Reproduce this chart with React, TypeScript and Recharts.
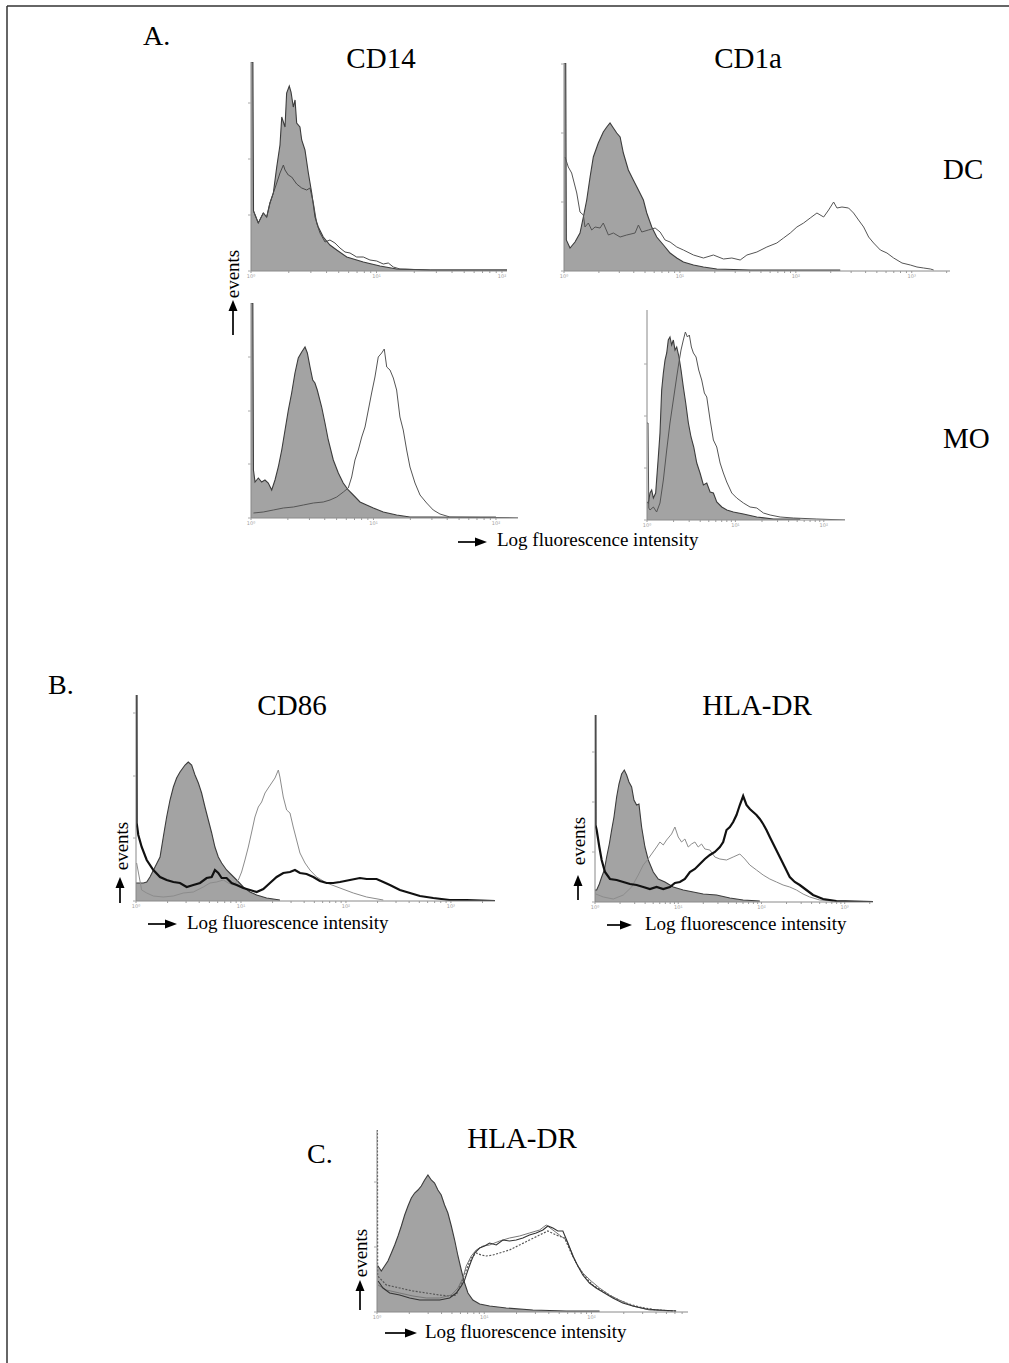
import React from 'react';
import { ComposedChart, Area, Line, XAxis, YAxis } from 'recharts';

type Pt = [number, number];

// ---------- tick labels ----------
const decadeLabels = ['10\u2070', '10\u00B9', '10\u00B2', '10\u00B3', '10\u2074'];
const minorMultipliers = [2, 3, 4, 5, 6, 7, 8, 9];

// ---------- A. DC / CD14 ----------
const cd14DcIsotype: Pt[] = [[0,209],[0.015,209],[0.02,60],[0.058,48],[0.098,58],[0.125,54],[0.151,68],[0.178,78],[0.205,104],[0.231,126],[0.245,154],[0.271,144],[0.284,178],[0.305,185],[0.319,179],[0.337,164],[0.351,171],[0.364,148],[0.39,144],[0.404,131],[0.43,121],[0.457,98],[0.484,78],[0.51,54],[0.536,44],[0.576,34],[0.629,26],[0.683,21],[0.763,14],[0.895,9],[1.028,5],[1.161,2],[1.43,1],[2.04,1]];
const cd14DcStained: Pt[] = [[0.02,60],[0.058,48],[0.098,58],[0.125,54],[0.151,68],[0.178,78],[0.205,88],[0.231,98],[0.258,106],[0.271,101],[0.297,96],[0.324,94],[0.364,87],[0.404,83],[0.444,81],[0.47,83],[0.497,68],[0.523,48],[0.55,38],[0.59,29],[0.629,31],[0.669,28],[0.709,23],[0.749,19],[0.789,18],[0.842,14],[0.895,14],[0.948,11],[1.002,10],[1.054,7],[1.094,8],[1.134,4],[1.187,2],[1.43,1],[2.04,1]];
const cd14DcYTicks = [0, 56, 112, 168];

// ---------- A. DC / CD1a ----------
const cd1aDcIsotype: Pt[] = [[0,208],[0.015,208],[0.02,31],[0.052,23],[0.095,29],[0.138,38],[0.167,54],[0.196,71],[0.225,94],[0.253,114],[0.296,128],[0.339,139],[0.369,144],[0.397,148],[0.426,143],[0.455,138],[0.484,134],[0.512,118],[0.555,101],[0.598,91],[0.642,81],[0.685,71],[0.714,58],[0.757,44],[0.8,34],[0.858,26],[0.915,18],[0.973,13],[1.03,9],[1.117,6],[1.203,4],[1.318,2],[1.606,1],[2.383,1]];
const cd1aDcStained: Pt[] = [[0.009,114],[0.037,104],[0.066,98],[0.11,78],[0.138,59],[0.167,56],[0.181,44],[0.21,48],[0.239,41],[0.268,44],[0.311,43],[0.339,48],[0.383,36],[0.426,38],[0.484,34],[0.541,36],[0.613,38],[0.642,46],[0.671,39],[0.728,41],[0.786,43],[0.829,39],[0.872,31],[0.915,29],[0.973,24],[1.03,21],[1.117,16],[1.203,13],[1.289,16],[1.376,12],[1.448,13],[1.52,11],[1.578,16],[1.664,19],[1.75,24],[1.836,28],[1.894,33],[1.952,38],[2.009,44],[2.067,48],[2.124,53],[2.182,58],[2.24,54],[2.283,61],[2.326,69],[2.355,63],[2.398,64],[2.455,63],[2.498,58],[2.541,51],[2.585,44],[2.628,34],[2.671,28],[2.729,21],[2.786,18],[2.844,13],[2.916,8],[2.988,6],[3.045,4],[3.103,3],[3.161,2],[3.189,1]];
const cd1aDcYTicks = [0, 69, 138, 207];

// ---------- A. MO / CD14 ----------
const cd14MoIsotype: Pt[] = [[0,215],[0.015,215],[0.02,48],[0.033,36],[0.06,40],[0.087,36],[0.114,38],[0.141,35],[0.169,28],[0.196,38],[0.223,51],[0.251,68],[0.278,88],[0.305,108],[0.332,125],[0.359,145],[0.386,160],[0.414,166],[0.441,171],[0.46,165],[0.482,151],[0.504,138],[0.522,135],[0.541,128],[0.577,111],[0.604,95],[0.631,78],[0.672,58],[0.713,45],[0.753,35],[0.794,28],[0.835,23],[0.89,16],[0.944,13],[0.999,10],[1.08,6],[1.189,3],[1.298,1],[1.461,1],[2.18,0]];
const cd14MoStained: Pt[] = [[0.02,5],[0.1,6],[0.182,8],[0.264,10],[0.346,11],[0.427,13],[0.509,15],[0.59,16],[0.645,18],[0.7,21],[0.754,26],[0.794,30],[0.822,41],[0.849,58],[0.876,68],[0.904,81],[0.931,91],[0.958,108],[0.985,125],[1.012,141],[1.039,161],[1.067,165],[1.088,169],[1.108,151],[1.135,148],[1.162,140],[1.189,128],[1.216,101],[1.243,88],[1.271,68],[1.298,51],[1.339,35],[1.38,23],[1.434,15],[1.488,8],[1.543,4],[1.624,1],[2.0,1]];
const cd14MoYTicks = [0, 54, 107, 161];

// ---------- A. MO / CD1a ----------
const cd1aMoIsotype: Pt[] = [[0,18],[0.015,17],[0.034,27],[0.053,30],[0.072,22],[0.098,27],[0.128,63],[0.147,87],[0.166,130],[0.185,147],[0.204,160],[0.223,167],[0.241,180],[0.26,183],[0.279,175],[0.298,180],[0.317,170],[0.336,173],[0.362,163],[0.385,150],[0.411,133],[0.438,117],[0.468,97],[0.498,83],[0.529,73],[0.563,57],[0.6,47],[0.638,35],[0.676,37],[0.714,28],[0.751,27],[0.789,18],[0.846,13],[0.903,10],[0.977,8],[1.091,6],[1.242,3],[1.43,1],[1.733,1]];
const cd1aMoStained: Pt[] = [[0,97],[0.012,97],[0.02,12],[0.034,10],[0.072,13],[0.109,8],[0.147,17],[0.185,40],[0.223,70],[0.26,97],[0.298,120],[0.336,143],[0.362,158],[0.385,170],[0.411,180],[0.434,188],[0.457,183],[0.479,185],[0.502,173],[0.525,167],[0.555,163],[0.585,150],[0.619,140],[0.649,127],[0.676,123],[0.714,100],[0.751,80],[0.789,73],[0.827,57],[0.864,47],[0.902,38],[0.959,27],[1.015,22],[1.091,17],[1.166,13],[1.242,12],[1.317,7],[1.393,5],[1.506,3],[1.657,2],[1.921,1],[2.24,0]];
const cd1aMoYTicks = [0, 52, 104, 156];

// ---------- B. CD86 ----------
const cd86Isotype: Pt[] = [[0,18],[0.013,18],[0.07,18],[0.102,19],[0.133,24],[0.181,34],[0.229,44],[0.26,64],[0.292,84],[0.324,101],[0.356,114],[0.387,123],[0.419,129],[0.467,136],[0.498,139],[0.53,136],[0.562,126],[0.594,118],[0.625,108],[0.657,94],[0.689,81],[0.721,68],[0.752,54],[0.784,44],[0.816,38],[0.863,31],[0.911,26],[0.959,21],[1.022,14],[1.086,9],[1.149,6],[1.244,3],[1.371,1]];
const cd86Immature: Pt[] = [[0.006,38],[0.054,11],[0.102,8],[0.165,5],[0.26,4],[0.356,5],[0.451,8],[0.546,9],[0.641,14],[0.705,18],[0.768,19],[0.832,21],[0.879,18],[0.927,16],[0.975,21],[1.006,29],[1.038,41],[1.07,54],[1.102,69],[1.133,84],[1.165,94],[1.197,99],[1.229,108],[1.26,113],[1.292,118],[1.324,123],[1.356,131],[1.371,124],[1.403,104],[1.435,91],[1.467,88],[1.498,74],[1.53,61],[1.562,48],[1.61,38],[1.657,31],[1.721,24],[1.816,18],[1.943,13],[2.07,8],[2.197,4],[2.356,1]];
const cd86Treated: Pt[] = [[0,206],[0.004,206],[0.006,78],[0.022,66],[0.054,54],[0.102,41],[0.165,31],[0.229,24],[0.292,21],[0.356,19],[0.419,18],[0.483,14],[0.546,16],[0.61,18],[0.673,23],[0.721,24],[0.752,31],[0.784,28],[0.816,23],[0.863,23],[0.911,18],[0.959,16],[1.022,13],[1.086,11],[1.149,9],[1.213,12],[1.276,18],[1.34,24],[1.403,28],[1.467,29],[1.514,31],[1.562,28],[1.625,27],[1.689,24],[1.752,20],[1.816,18],[1.879,18],[1.943,19],[2.038,21],[2.133,23],[2.197,22],[2.292,22],[2.356,19],[2.419,16],[2.514,11],[2.61,8],[2.705,5],[2.832,3],[2.99,1],[3.149,1],[3.42,0]];
const cd86YTicks = [0, 63, 125, 188];

// ---------- B. HLA-DR ----------
const hlaBIsotype: Pt[] = [[0,12],[0.02,12],[0.052,18],[0.08,25],[0.112,32],[0.14,45],[0.172,58],[0.2,72],[0.228,85],[0.26,105],[0.288,118],[0.32,128],[0.352,132],[0.38,127],[0.408,120],[0.44,115],[0.468,102],[0.5,97],[0.528,98],[0.56,75],[0.6,55],[0.64,42],[0.7,30],[0.76,23],[0.84,20],[0.94,15],[1.06,12],[1.18,10],[1.3,8],[1.46,7],[1.62,4],[1.78,2],[1.98,1]];
const hlaBImmature: Pt[] = [[0.01,8],[0.1,5],[0.22,3],[0.34,7],[0.44,15],[0.52,27],[0.58,37],[0.628,42],[0.68,48],[0.74,55],[0.78,60],[0.82,57],[0.86,62],[0.92,68],[0.96,75],[1.0,65],[1.04,60],[1.08,63],[1.12,55],[1.16,58],[1.2,60],[1.24,55],[1.28,58],[1.32,53],[1.38,52],[1.44,45],[1.5,43],[1.58,42],[1.66,45],[1.74,48],[1.8,43],[1.86,37],[1.94,32],[2.02,27],[2.1,23],[2.18,20],[2.26,17],[2.34,15],[2.42,12],[2.5,8],[2.58,5],[2.7,2],[2.86,1]];
const hlaBTreated: Pt[] = [[0,187],[0.004,187],[0.006,77],[0.02,72],[0.052,55],[0.08,42],[0.12,30],[0.18,23],[0.26,22],[0.34,20],[0.42,18],[0.5,17],[0.58,15],[0.66,13],[0.74,15],[0.82,13],[0.9,15],[0.96,19],[1.02,20],[1.08,23],[1.14,30],[1.2,33],[1.26,38],[1.32,43],[1.38,47],[1.44,50],[1.5,55],[1.54,60],[1.58,72],[1.62,75],[1.66,80],[1.7,87],[1.74,97],[1.78,106],[1.82,97],[1.86,93],[1.9,90],[1.94,87],[1.98,83],[2.02,78],[2.06,72],[2.1,65],[2.16,55],[2.22,45],[2.28,35],[2.34,25],[2.4,20],[2.46,17],[2.54,12],[2.62,7],[2.74,3],[2.9,1],[3.34,0]];
const hlaBYTicks = [0, 50, 100, 150];

// ---------- C. HLA-DR ----------
const hlaCIsotype: Pt[] = [[0,46],[0.01,46],[0.04,41],[0.071,46],[0.102,51],[0.134,59],[0.165,67],[0.196,76],[0.227,86],[0.258,97],[0.289,106],[0.32,114],[0.351,119],[0.382,122],[0.413,126],[0.444,132],[0.475,137],[0.506,132],[0.537,129],[0.568,122],[0.599,117],[0.63,107],[0.661,99],[0.693,86],[0.724,72],[0.755,56],[0.786,42],[0.817,29],[0.848,19],[0.894,12],[0.957,8],[1.05,6],[1.205,4],[1.453,2],[1.764,1],[2.075,1]];
const hlaCSample1: Pt[] = [[0.01,31],[0.056,24],[0.118,19],[0.211,17],[0.304,14],[0.398,12],[0.491,12],[0.584,12],[0.677,14],[0.739,19],[0.786,26],[0.817,32],[0.848,42],[0.879,51],[0.91,59],[0.957,64],[1.003,66],[1.05,69],[1.112,67],[1.174,72],[1.236,71],[1.298,72],[1.36,74],[1.422,77],[1.484,79],[1.547,82],[1.593,86],[1.64,84],[1.686,81],[1.733,81],[1.78,69],[1.826,56],[1.873,46],[1.919,37],[1.981,29],[2.043,24],[2.121,19],[2.199,14],[2.292,9],[2.385,6],[2.509,3],[2.634,2],[2.789,1]];
const hlaCSample2: Pt[] = [[0.01,27],[0.087,22],[0.211,19],[0.335,16],[0.46,14],[0.584,14],[0.693,17],[0.755,24],[0.801,34],[0.832,46],[0.879,56],[0.925,62],[0.988,66],[1.05,67],[1.143,71],[1.236,74],[1.329,76],[1.422,79],[1.516,82],[1.578,87],[1.64,82],[1.702,77],[1.764,72],[1.811,61],[1.857,49],[1.919,39],[1.997,31],[2.075,24],[2.168,17],[2.261,12],[2.385,6],[2.54,2],[2.758,1]];
const hlaCSample3: Pt[] = [[0,182],[0.004,182],[0.006,36],[0.087,27],[0.211,24],[0.335,21],[0.46,19],[0.584,17],[0.677,16],[0.739,17],[0.786,29],[0.832,42],[0.879,54],[0.925,59],[0.972,57],[1.019,56],[1.081,57],[1.143,59],[1.236,62],[1.329,67],[1.422,72],[1.516,77],[1.593,81],[1.671,77],[1.749,74],[1.811,59],[1.873,46],[1.935,36],[2.012,27],[2.106,21],[2.214,14],[2.323,9],[2.447,5],[2.602,2],[2.789,1]];
const hlaCYTicks = [0, 65, 130];

// ---------- styling / layout ----------
const FONT = "'Liberation Serif', 'Times New Roman', serif";
const FILL = '#a3a3a3';

type Series = { key: string; data: Pt[]; kind: 'area' | 'line'; stroke: string; width: number; fill?: string; dash?: string };
type Panel = { id: string; axisX: number; axisY: number; plotW: number; plotH: number; xMax: number; yTicks: number[]; series: Series[] };

const isoArea = (key: string, data: Pt[]): Series => ({ key, data, kind: 'area', stroke: '#3c3c3c', width: 1.1, fill: FILL });

const panels: Panel[] = [
  { id: 'cd14dc', axisX: 251, axisY: 271, plotW: 256, plotH: 209, xMax: 2.04, yTicks: cd14DcYTicks,
    series: [isoArea('iso', cd14DcIsotype), { key: 'st', data: cd14DcStained, kind: 'line', stroke: '#4a4a4a', width: 1 }] },
  { id: 'cd1adc', axisX: 564, axisY: 271, plotW: 386, plotH: 208, xMax: 3.33, yTicks: cd1aDcYTicks,
    series: [isoArea('iso', cd1aDcIsotype), { key: 'st', data: cd1aDcStained, kind: 'line', stroke: '#555', width: 1 }] },
  { id: 'cd14mo', axisX: 251, axisY: 518, plotW: 267, plotH: 215, xMax: 2.18, yTicks: cd14MoYTicks,
    series: [isoArea('iso', cd14MoIsotype), { key: 'st', data: cd14MoStained, kind: 'line', stroke: '#555', width: 1 }] },
  { id: 'cd1amo', axisX: 647, axisY: 520, plotW: 198, plotH: 210, xMax: 2.24, yTicks: cd1aMoYTicks,
    series: [isoArea('iso', cd1aMoIsotype), { key: 'st', data: cd1aMoStained, kind: 'line', stroke: '#555', width: 1 }] },
  { id: 'cd86', axisX: 136, axisY: 901, plotW: 359, plotH: 206, xMax: 3.42, yTicks: cd86YTicks,
    series: [isoArea('iso', cd86Isotype),
      { key: 'im', data: cd86Immature, kind: 'line', stroke: '#8c8c8c', width: 1 },
      { key: 'tr', data: cd86Treated, kind: 'line', stroke: '#111', width: 2.2 }] },
  { id: 'hlab', axisX: 595, axisY: 902, plotW: 278, plotH: 187, xMax: 3.34, yTicks: hlaBYTicks,
    series: [isoArea('iso', hlaBIsotype),
      { key: 'im', data: hlaBImmature, kind: 'line', stroke: '#8c8c8c', width: 1 },
      { key: 'tr', data: hlaBTreated, kind: 'line', stroke: '#111', width: 2.2 }] },
  { id: 'hlac', axisX: 377, axisY: 1312, plotW: 311, plotH: 182, xMax: 2.9, yTicks: hlaCYTicks,
    series: [isoArea('iso', hlaCIsotype),
      { key: 's3', data: hlaCSample3, kind: 'line', stroke: '#555', width: 1.2, dash: '2 1.5' },
      { key: 's2', data: hlaCSample2, kind: 'line', stroke: '#777', width: 1 },
      { key: 's1', data: hlaCSample1, kind: 'line', stroke: '#333', width: 1.1 }] },
];

function buildRows(series: Series[]) {
  const rows: Record<string, number>[] = [];
  series.forEach((s) => s.data.forEach(([x, y]) => rows.push({ x, [s.key]: y })));
  rows.sort((a, b) => a.x - b.x);
  return rows;
}

function xTicksFor(xMax: number) {
  const t: number[] = [];
  for (let k = 0; k <= Math.floor(xMax); k++) {
    t.push(k);
    minorMultipliers.forEach((m) => {
      const v = k + Math.log10(m);
      if (v <= xMax) t.push(v);
    });
  }
  return t;
}

const YW = 5, XH = 12, MT = 2, MR = 10;

function Histogram({ p }: { p: Panel }) {
  const rows = buildRows(p.series);
  const ticks = xTicksFor(p.xMax);
  return (
    <div style={{ position: 'absolute', left: p.axisX - YW, top: p.axisY - p.plotH - MT }}>
      <ComposedChart width={YW + p.plotW + MR} height={MT + p.plotH + XH} data={rows}
        margin={{ top: MT, right: MR, bottom: 0, left: 0 }}>
        <XAxis dataKey="x" type="number" domain={[0, p.xMax]} allowDataOverflow ticks={ticks} interval={0}
          tickFormatter={(v: number) => (Number.isInteger(v) ? decadeLabels[v] : '')}
          height={XH} tickSize={2} tickMargin={1}
          tick={{ fontSize: 5, fill: '#a0a0a0', fontFamily: 'DejaVu Sans' }}
          axisLine={{ stroke: '#8a8a8a', strokeWidth: 1 }} tickLine={{ stroke: '#9a9a9a' }} />
        <YAxis type="number" domain={[0, p.plotH]} allowDataOverflow ticks={p.yTicks} interval={0} width={YW}
          tickSize={3} tickFormatter={() => ''} axisLine={{ stroke: '#888', strokeWidth: 1 }} tickLine={{ stroke: '#aaa' }} />
        {p.series.map((s) =>
          s.kind === 'area' ? (
            <Area key={s.key} type="linear" dataKey={s.key} stroke={s.stroke} strokeWidth={s.width} fill={s.fill}
              fillOpacity={1} connectNulls dot={false} activeDot={false} isAnimationActive={false} />
          ) : (
            <Line key={s.key} type="linear" dataKey={s.key} stroke={s.stroke} strokeWidth={s.width}
              strokeDasharray={s.dash} connectNulls dot={false} activeDot={false} isAnimationActive={false} />
          )
        )}
      </ComposedChart>
    </div>
  );
}

function VArrow({ x, head, tail }: { x: number; head: number; tail: number }) {
  return (
    <g>
      <line x1={x} y1={tail} x2={x} y2={head + 8} stroke="#000" strokeWidth={1.7} />
      <polygon points={`${x},${head} ${x - 4.5},${head + 11} ${x + 4.5},${head + 11}`} fill="#000" />
    </g>
  );
}

function HArrow({ y, x1, x2 }: { y: number; x1: number; x2: number }) {
  return (
    <g>
      <line x1={x1} y1={y} x2={x2 - 8} y2={y} stroke="#000" strokeWidth={1.7} />
      <polygon points={`${x2},${y} ${x2 - 12},${y - 4.5} ${x2 - 12},${y + 4.5}`} fill="#000" />
    </g>
  );
}

function Label({ x, y, size, anchor = 'start', children, rotate }: { x: number; y: number; size: number; anchor?: 'start' | 'middle' | 'end'; children: React.ReactNode; rotate?: boolean }) {
  return (
    <text x={x} y={y} fontSize={size} fontFamily={FONT} textAnchor={anchor} fill="#000"
      transform={rotate ? `rotate(-90 ${x} ${y})` : undefined}>{children}</text>
  );
}

const TITLE = 29;
const AXLAB = 19;

export default function App() {
  return (
    <div style={{ position: 'absolute', left: 0, top: 0, width: 1009, height: 1363, background: '#fff', overflow: 'hidden' }}>
      {panels.map((p) => <Histogram key={p.id} p={p} />)}
      <svg width={1009} height={1363} style={{ position: 'absolute', left: 0, top: 0, pointerEvents: 'none' }}>
        <line x1={7} y1={6} x2={1009} y2={6} stroke="#333" strokeWidth={1.5} />
        <line x1={7} y1={6} x2={7} y2={1363} stroke="#333" strokeWidth={1.5} />

        {/* Panel A */}
        <Label x={143} y={45} size={28}>A.</Label>
        <Label x={381} y={68} size={TITLE} anchor="middle">CD14</Label>
        <Label x={748} y={68} size={TITLE} anchor="middle">CD1a</Label>
        <Label x={943} y={179} size={TITLE}>DC</Label>
        <Label x={943} y={448} size={TITLE}>MO</Label>
        <Label x={239} y={274} size={AXLAB} anchor="middle" rotate>events</Label>
        <VArrow x={233} head={300} tail={335} />
        <HArrow y={542} x1={458} x2={487} />
        <Label x={497} y={546} size={AXLAB}>Log fluorescence intensity</Label>

        {/* Panel B */}
        <Label x={48} y={694} size={28}>B.</Label>
        <Label x={292} y={715} size={TITLE} anchor="middle">CD86</Label>
        <Label x={757} y={715} size={TITLE} anchor="middle">HLA-DR</Label>
        <Label x={128} y={846} size={AXLAB} anchor="middle" rotate>events</Label>
        <VArrow x={120} head={877} tail={903} />
        <HArrow y={924} x1={148} x2={177} />
        <Label x={187} y={929} size={AXLAB}>Log fluorescence intensity</Label>
        <Label x={585} y={841} size={AXLAB} anchor="middle" rotate>events</Label>
        <VArrow x={578} head={875} tail={900} />
        <HArrow y={925} x1={607} x2={632} />
        <Label x={645} y={930} size={AXLAB}>Log fluorescence intensity</Label>

        {/* Panel C */}
        <Label x={307} y={1163} size={28}>C.</Label>
        <Label x={522} y={1148} size={TITLE} anchor="middle">HLA-DR</Label>
        <Label x={367} y={1253} size={AXLAB} anchor="middle" rotate>events</Label>
        <VArrow x={360} head={1280} tail={1310} />
        <HArrow y={1333} x1={385} x2={417} />
        <Label x={425} y={1338} size={AXLAB}>Log fluorescence intensity</Label>
      </svg>
    </div>
  );
}
